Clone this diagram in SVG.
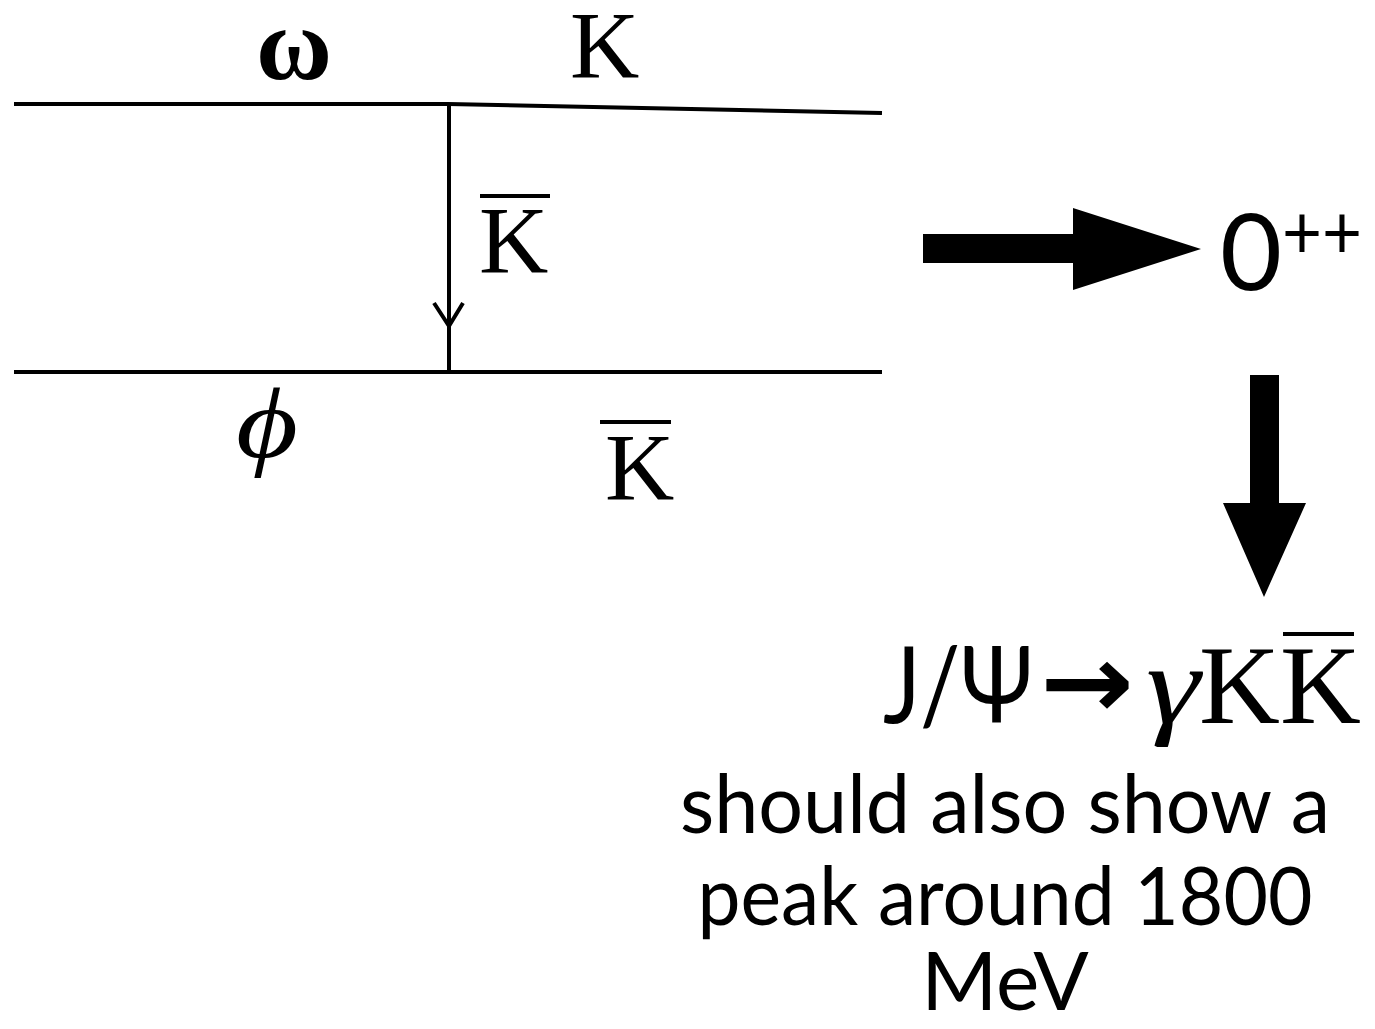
<svg xmlns="http://www.w3.org/2000/svg" width="1375" height="1029" viewBox="0 0 1375 1029">
<style>
.ln{stroke:#000;stroke-width:4;fill:none;stroke-linecap:butt}
.bar{stroke:#000;stroke-width:4}
.tm{font-family:"Liberation Serif","Times New Roman",serif;fill:#000}
.gs{font-family:Lato,"Open Sans","Noto Sans",sans-serif;fill:#000}
</style>
<rect width="1375" height="1029" fill="#fff"/>
<g id="connectors">
<polyline class="ln" points="14,104 448,104 882,113"/>
<line class="ln" x1="14" y1="372" x2="882" y2="372"/>
<line class="ln" x1="449" y1="104" x2="449" y2="372"/>
<polyline class="ln" points="434,303 449,326 463,303"/>
<path d="M923,234 H1073 V208 L1201,249 L1073,290 V263 H923 Z" fill="#000"/>
<path d="M1250,375 H1279 V503 H1306 L1264,597 L1223,503 H1250 Z" fill="#000"/>
</g>
<g id="label-omega"><text class="tm" x="256" y="79" font-size="104" font-weight="bold">ω</text></g>
<g id="label-K-top"><text class="tm" x="570" y="78" font-size="96">K</text></g>
<g id="label-Kbar-mid"><line class="bar" x1="480" y1="196" x2="550" y2="196"/><text class="tm" x="479" y="273" font-size="96">K</text></g>
<g id="label-phi"><text class="tm" x="236" y="457" font-size="100" font-style="italic" textLength="62" lengthAdjust="spacingAndGlyphs">ϕ</text></g>
<g id="label-Kbar-bot"><line class="bar" x1="600" y1="422" x2="671" y2="422"/><text class="tm" x="605" y="500" font-size="96">K</text></g>
<g id="label-0pp"><text class="gs" x="1220" y="290" font-size="107">0</text><text class="gs" x="1282" y="259" font-size="76" textLength="80" lengthAdjust="spacingAndGlyphs">++</text></g>
<g id="label-jpsi">
<text class="gs" x="883" y="723" font-size="106" textLength="150" lengthAdjust="spacingAndGlyphs">J/Ψ</text>
<text x="1040" y="718" font-size="104" font-family="'DejaVu Sans',sans-serif" font-weight="bold" textLength="94" lengthAdjust="spacingAndGlyphs">→</text>
<text class="tm" x="1146" y="723" font-size="112" font-style="italic" textLength="54" lengthAdjust="spacingAndGlyphs">γ</text>
<text class="tm" x="1199" y="723" font-size="112">KK</text>
<line class="bar" x1="1283" y1="634" x2="1354" y2="634"/>
</g>
<g id="label-note">
<text class="gs" x="1005" y="833" font-size="82" text-anchor="middle" textLength="650" lengthAdjust="spacingAndGlyphs">should also show a</text>
<text class="gs" x="1005" y="925" font-size="82" text-anchor="middle" textLength="615" lengthAdjust="spacingAndGlyphs">peak around 1800</text>
<text class="gs" x="1005" y="1010" font-size="82" text-anchor="middle">MeV</text>
</g>
</svg>
